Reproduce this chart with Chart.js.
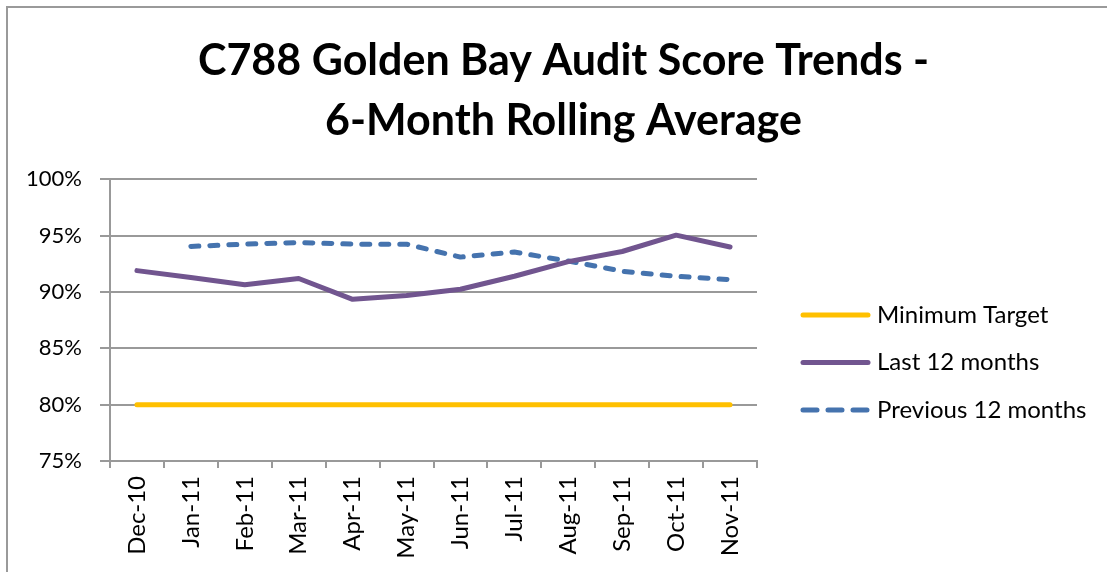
<!DOCTYPE html>
<html lang="en">
<head>
  <meta charset="UTF-8" />
  <title>C788 Golden Bay Audit Score Trends</title>
  <script src="https://cdn.jsdelivr.net/npm/chart.js"></script>
  <style>
    html, body {
      margin: 0;
      padding: 0;
      background: #fff;
      overflow: hidden;
    }
    .frame {
      position: absolute;
      left: 6px;
      top: 6px;
      right: -10px;
      bottom: -10px;
      border-left: 2px solid #9a9a9a;
      border-top: 2px solid #9a9a9a;
    }
    #chart {
      position: absolute;
      left: 0;
      top: 0;
    }
  </style>
</head>
<body>
  <div class="frame"></div>
  <canvas id="chart" width="1107" height="572"></canvas>
  <script>
    const months = ["Dec-10", "Jan-11", "Feb-11", "Mar-11", "Apr-11", "May-11",
                    "Jun-11", "Jul-11", "Aug-11", "Sep-11", "Oct-11", "Nov-11"];
    const minimumTarget = [80, 80, 80, 80, 80, 80, 80, 80, 80, 80, 80, 80];
    const last12 = [91.9, 91.3, 90.65, 91.2, 89.35, 89.7, 90.25, 91.4, 92.7, 93.6, 95.05, 94.0];
    const previous12 = [null, 94.05, 94.25, 94.4, 94.25, 94.25, 93.1, 93.55, 92.75, 91.85, 91.4, 91.1];
    const yTicks = [75, 80, 85, 90, 95, 100];

    const font = "Lato, 'Open Sans', sans-serif";
    const gridGray = '#999999';

    // legend on the right, drawn from the datasets' own styles
    // (the built-in one gets squeezed to a quarter of the width)
    const sideLegend = {
      id: 'sideLegend',
      afterDraw(chart) {
        const ctx = chart.ctx;
        const x0 = chart.chartArea.right + 46;
        const lineLen = 65;
        const top = 315, step = 47.5;
        ctx.save();
        chart.data.datasets.forEach((ds, i) => {
          const y = top + i * step;
          ctx.beginPath();
          ctx.strokeStyle = ds.borderColor;
          ctx.lineWidth = ds.borderWidth;
          ctx.lineCap = 'round';
          ctx.setLineDash(ds.borderDash ? [14, 11] : []);
          ctx.moveTo(x0, y);
          ctx.lineTo(x0 + lineLen, y);
          ctx.stroke();
          ctx.setLineDash([]);
          ctx.fillStyle = '#000';
          ctx.font = '24px ' + font;
          ctx.textBaseline = 'middle';
          ctx.fillText(ds.label, x0 + lineLen + 9, y);
        });
        ctx.restore();
      }
    };

    new Chart(document.getElementById('chart'), {
      type: 'line',
      data: {
        labels: months,
        datasets: [
          {
            label: 'Minimum Target',
            data: minimumTarget,
            borderColor: '#FFC000',
            backgroundColor: '#FFC000',
            borderWidth: 5,
            borderCapStyle: 'round',
            pointRadius: 0,
            tension: 0
          },
          {
            label: 'Last 12 months',
            data: last12,
            borderColor: '#71558F',
            backgroundColor: '#71558F',
            borderWidth: 5,
            borderCapStyle: 'round',
            borderJoinStyle: 'round',
            pointRadius: 0,
            tension: 0
          },
          {
            label: 'Previous 12 months',
            data: previous12,
            borderColor: '#4573AE',
            backgroundColor: '#4573AE',
            borderWidth: 5,
            borderDash: [8, 11],
            borderCapStyle: 'round',
            borderJoinStyle: 'round',
            pointRadius: 0,
            tension: 0
          }
        ]
      },
      options: {
        responsive: false,
        animation: false,
        layout: {
          padding: { left: 20, right: 0, top: 0, bottom: 0 }
        },
        plugins: {
          tooltip: { enabled: false },
          legend: { display: false },
          title: {
            display: true,
            text: ['C788 Golden Bay Audit Score Trends -', '6-Month Rolling Average'],
            color: '#000',
            font: { family: font, size: 43, weight: 'bold', lineHeight: 1.4 },
            padding: { top: 31, bottom: 28 }
          }
        },
        scales: {
          x: {
            offset: true,
            grid: {
              display: true,
              drawOnChartArea: false,
              offset: true,
              tickLength: 7,
              color: gridGray,
              lineWidth: 2
            },
            border: { display: true, color: gridGray, width: 2 },
            ticks: {
              color: '#000',
              font: { family: font, size: 24 },
              minRotation: 90,
              maxRotation: 90,
              autoSkip: false,
              padding: 8
            },
            afterFit: s => { s.height = 111; }
          },
          y: {
            min: 75,
            max: 100,
            afterBuildTicks: s => { s.ticks = yTicks.map(v => ({ value: v })); },
            grid: {
              color: gridGray,
              lineWidth: 2,
              tickLength: 10
            },
            border: { display: true, color: gridGray, width: 2 },
            ticks: {
              color: '#000',
              font: { family: font, size: 22 },
              padding: 18,
              callback: v => v + '%'
            },
            afterFit: s => { s.width = 90; }
          },
          // empty axis that only keeps room for the legend
          legendRoom: {
            type: 'linear',
            position: 'right',
            display: true,
            grid: { display: false },
            border: { display: false },
            ticks: { display: false },
            afterFit: s => { s.width = 350; }
          }
        }
      },
      plugins: [sideLegend]
    });
  </script>
</body>
</html>
